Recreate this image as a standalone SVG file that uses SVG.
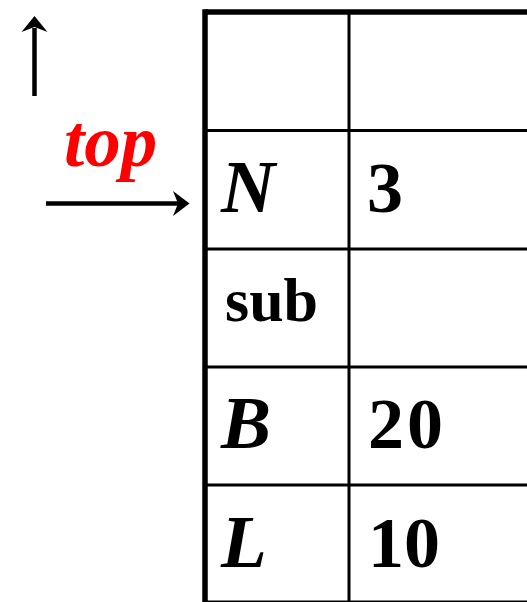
<svg xmlns="http://www.w3.org/2000/svg" width="527" height="602" viewBox="0 0 527 602">
<style>
.grid{stroke:#000;fill:none}
.thick{stroke-width:5.5}
.thin{stroke-width:3}
.lbl{font-family:"Liberation Serif","Times New Roman",serif;font-weight:bold;fill:#000}
.it{font-style:italic;font-size:75px}
.num{font-size:72px}
.top{font-family:"Liberation Serif","Times New Roman",serif;font-weight:bold;font-style:italic;fill:#ff0000;font-size:73px}
.arrow{stroke:#000;stroke-width:4.5;fill:none}
.head{fill:#000}
</style>
<rect width="527" height="602" fill="#fff"/>
<g id="table">
  <line class="grid thin" x1="205" y1="130.5" x2="527" y2="130.5"/>
  <line class="grid thin" x1="205" y1="249" x2="527" y2="249"/>
  <line class="grid thin" x1="205" y1="367" x2="527" y2="367"/>
  <line class="grid thin" x1="205" y1="485" x2="527" y2="485"/>
  <line class="grid thin" x1="205" y1="602" x2="527" y2="602"/>
  <line class="grid thin" x1="349" y1="12" x2="349" y2="602"/>
  <line class="grid thick" x1="205" y1="12" x2="527" y2="12"/>
  <line class="grid thick" x1="205" y1="9.25" x2="205" y2="602"/>
</g>
<g id="row-N">
  <text class="lbl it" x="221" y="212">N</text>
  <text class="lbl num" x="367" y="212">3</text>
</g>
<g id="row-sub">
  <text class="lbl" x="225" y="321" font-size="62">sub</text>
</g>
<g id="row-B">
  <text class="lbl it" x="221" y="448">B</text>
  <text class="lbl num" x="368" y="448" letter-spacing="3">20</text>
</g>
<g id="row-L">
  <text class="lbl it" x="221" y="567">L</text>
  <text class="lbl num" x="368" y="567">10</text>
</g>
<g id="label-top">
  <text class="top" x="64" y="166">top</text>
</g>
<g id="connectors">
  <line class="arrow" x1="34.5" y1="96" x2="34.5" y2="28"/>
  <polygon class="head" points="34.5,16 47.5,32 34.5,27 21.5,32"/>
  <line class="arrow" x1="46" y1="203.5" x2="178" y2="203.5"/>
  <polygon class="head" points="189.5,203.5 173,216 178,203.5 173,191"/>
</g>
</svg>
